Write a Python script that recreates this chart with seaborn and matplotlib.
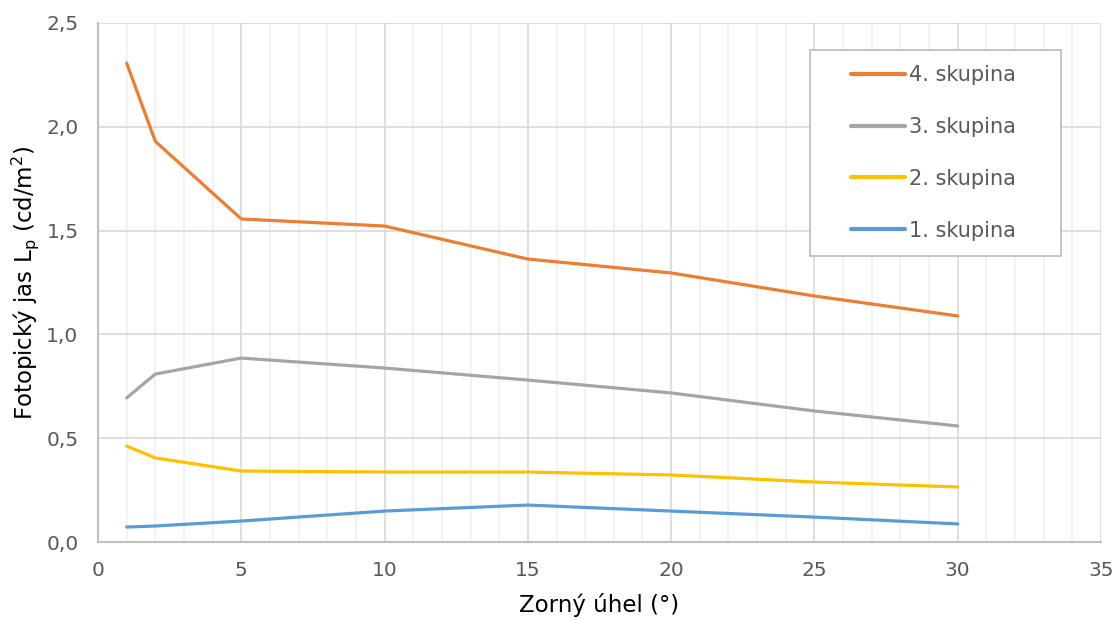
import matplotlib
matplotlib.use("Agg")
import matplotlib.pyplot as plt
import seaborn as sns
import pandas as pd
from matplotlib.ticker import MultipleLocator, FuncFormatter
from matplotlib.patches import Rectangle

angles = [1, 2, 5, 10, 15, 20, 25, 30]
group1 = [0.072, 0.077, 0.101, 0.149, 0.178, 0.149, 0.120, 0.087]
group2 = [0.462, 0.405, 0.342, 0.337, 0.337, 0.323, 0.289, 0.265]
group3 = [0.694, 0.809, 0.886, 0.838, 0.780, 0.718, 0.631, 0.559]
group4 = [2.307, 1.930, 1.556, 1.522, 1.363, 1.296, 1.185, 1.089]
labels = ["4. skupina", "3. skupina", "2. skupina", "1. skupina"]
series = [group4, group3, group2, group1]
colors = ["#ED7D31", "#A5A5A5", "#FFC000", "#5B9BD5"]

rows = []
for lab, vals in zip(labels, series):
    for a, v in zip(angles, vals):
        rows.append({"x": a, "y": v, "g": lab})
df = pd.DataFrame(rows)

sns.set_style("white")
plt.rcParams['font.family'] = ['DejaVu Sans']

W, H = 1118, 621
fig = plt.figure(figsize=(W / 100, H / 100), dpi=100)
ax = fig.add_axes([98 / W, (H - 542) / H, 1003 / W, 519 / H])

sns.lineplot(data=df, x="x", y="y", hue="g", hue_order=labels,
             palette=colors, linewidth=2.3, ax=ax, sort=False)

ax.set_xlim(0, 35)
ax.set_ylim(0, 2.5)
ax.xaxis.set_major_locator(MultipleLocator(5))
ax.xaxis.set_minor_locator(MultipleLocator(1))
ax.yaxis.set_major_locator(MultipleLocator(0.5))
ax.yaxis.set_major_formatter(FuncFormatter(lambda v, p: f"{v:.1f}".replace(".", ",")))

ax.grid(which="major", axis="both", color="#D9D9D9", linewidth=1.2)
ax.grid(which="minor", axis="x", color="#F0F0F0", linewidth=1.2)
ax.set_axisbelow(True)

for s in ["top", "right"]:
    ax.spines[s].set_visible(False)
for s in ["left", "bottom"]:
    ax.spines[s].set_color("#BFBFBF")
    ax.spines[s].set_linewidth(1.5)

ax.tick_params(axis="x", which="both", length=0, labelsize=14.5,
               colors="#595959", pad=14)
ax.tick_params(axis="y", which="both", length=0, labelsize=14.5,
               colors="#595959", pad=14)

ax.set_xlabel("Zorný úhel (°)", fontsize=16.5, color="#000000", labelpad=9)
ax.set_ylabel("Fotopický jas L$_\\mathregular{p}$ (cd/m$^\\mathregular{2}$)",
              fontsize=16.5, color="#000000", labelpad=4)

# legend frame
frame = Rectangle((810 / W, (H - 256) / H), 251 / W, 206 / H,
                  transform=fig.transFigure, facecolor="white",
                  edgecolor="#BFBFBF", linewidth=1.3, zorder=4)
ax.add_artist(frame)

leg = ax.legend(loc="upper left", bbox_to_anchor=(851 / W, (H - 65) / H),
                bbox_transform=fig.transFigure,
                fontsize=15, frameon=False, labelspacing=1.53,
                handlelength=2.6, handletextpad=0.2, borderpad=0,
                borderaxespad=0, title=None)
leg.set_zorder(5)
for t in leg.get_texts():
    t.set_color("#595959")
for l in leg.get_lines():
    l.set_linewidth(3)

fig.savefig("out.png", dpi=100)
